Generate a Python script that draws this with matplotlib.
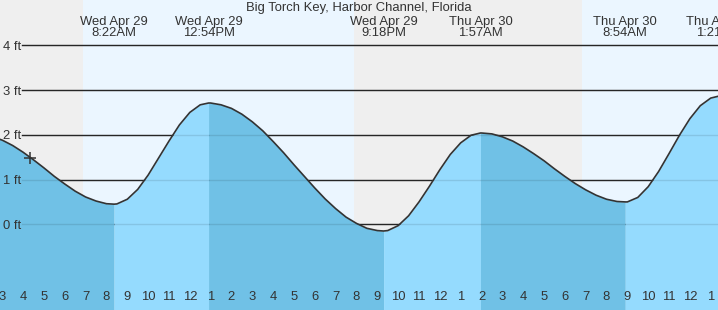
import matplotlib
matplotlib.use("Agg")
import matplotlib.pyplot as plt
import matplotlib.transforms as mtransforms
import numpy as np

# ---------------- data (hours since Wed Apr 29 00:00, height in ft) ----------------
times = [2.5, 3.0, 3.5, 4.0, 4.5, 5.0, 5.5, 6.0, 6.5, 7.0, 7.5, 8.0, 8.367,
         8.5, 9.0, 9.5, 10.0, 10.5, 11.0, 11.5, 12.0, 12.5, 12.9,
         13.0, 13.5, 14.0, 14.5, 15.0, 15.5, 16.0, 16.5, 17.0, 17.5, 18.0, 18.5,
         19.0, 19.5, 20.0, 20.5, 21.0, 21.3,
         21.5, 22.0, 22.5, 23.0, 23.5, 24.0, 24.5, 25.0, 25.5, 25.95,
         26.0, 26.5, 27.0, 27.5, 28.0, 28.5, 29.0, 29.5, 30.0, 30.5, 31.0, 31.5,
         32.0, 32.5, 32.9,
         33.0, 33.5, 34.0, 34.5, 35.0, 35.5, 36.0, 36.5, 37.0, 37.35, 37.5]
heights = [1.96, 1.88, 1.76, 1.61, 1.44, 1.26, 1.07, 0.90, 0.74, 0.61, 0.52, 0.46, 0.45,
           0.455, 0.56, 0.78, 1.10, 1.48, 1.86, 2.22, 2.50, 2.67, 2.71,
           2.71, 2.67, 2.59, 2.46, 2.29, 2.09, 1.85, 1.60, 1.33, 1.07, 0.81, 0.565,
           0.35, 0.16, 0.02, -0.09, -0.14, -0.15,
           -0.14, -0.03, 0.19, 0.50, 0.85, 1.22, 1.56, 1.82, 1.99, 2.04,
           2.04, 2.02, 1.955, 1.86, 1.73, 1.58, 1.42, 1.24, 1.07, 0.91, 0.77, 0.65,
           0.56, 0.51, 0.50,
           0.50, 0.60, 0.84, 1.18, 1.58, 1.99, 2.36, 2.65, 2.82, 2.86, 2.86]

# extreme times (turning points) separating falling / rising fills
turn_times = [8.367, 12.9, 21.3, 25.95, 32.9, 37.35]
first_phase_falling = True

# tide labels
label_times = [8.367, 12.9, 21.3, 25.95, 32.9, 37.35]
label_dates = ["Wed Apr 29", "Wed Apr 29", "Wed Apr 29", "Thu Apr 30", "Thu Apr 30", "Thu Apr 30"]
label_clock = ["8:22AM", "12:54PM", "9:18PM", "1:57AM", "8:54AM", "1:21PM"]

# day / night
night_spans = [(2.0, 6.873), (19.88, 30.82)]
day_spans = [(6.873, 19.88), (30.82, 38.0)]

# current time marker
now_time = 4.33
now_height = 1.48

# hour ticks
hour_ticks = list(range(3, 38))
hour_labels = ["3", "4", "5", "6", "7", "8", "9", "10", "11", "12", "1", "2", "3", "4", "5",
               "6", "7", "8", "9", "10", "11", "12", "1", "2", "3", "4", "5", "6", "7",
               "8", "9", "10", "11", "12", "1"]
midnight_tick = 24

y_levels = [4, 3, 2, 1, 0]
y_labels = ["4 ft", "3 ft", "2 ft", "1 ft", "0 ft"]

title = "Big Torch Key, Harbor Channel, Florida"

# ---------------- styling ----------------
W, H = 718, 310
plt.rcParams['font.family'] = ['Liberation Sans', 'DejaVu Sans']
FS = 9.4
TXT = "#333333"
NIGHT = "#efefef"
DAY = "#ebf6ff"
FALL = "#70c1e6"
RISE = "#95dbfe"

fig = plt.figure(figsize=(W / 100, H / 100), dpi=100)
ax = fig.add_axes([0, 0, 1, 1])
xmin, xmax = 2.89, 37.35
ax.set_xlim(xmin, xmax)
ax.set_ylim(-1.915, 5.012)
for s in ax.spines.values():
    s.set_visible(False)
ax.set_yticks([])

# background
for a, b in night_spans:
    ax.axvspan(a, b, color=NIGHT, lw=0, zorder=0)
for a, b in day_spans:
    ax.axvspan(a, b, color=DAY, lw=0, zorder=0)

# grid lines (under fill)
for lv in y_levels:
    ax.axhline(lv, xmin=22 / W, xmax=1, color="#2b2b2b", lw=1.0, zorder=1)

# fills
t = np.array(times)
h = np.array(heights)
bounds = [t[0]] + turn_times + [t[-1] + 1]
falling = first_phase_falling
for i in range(len(bounds) - 1):
    m = (t >= bounds[i]) & (t <= bounds[i + 1])
    ax.fill_between(t[m], -3, h[m], color=FALL if falling else RISE, lw=0, zorder=2)
    falling = not falling

# faint grid lines seen through fill
for lv in y_levels:
    ax.axhline(lv, xmin=22 / W, xmax=1, color="black", alpha=0.10, lw=1.0, zorder=3)

# curve
ax.plot(t, h, color="#333333", lw=1.2, zorder=4, solid_joinstyle="round")
ax.plot([now_time], [now_height], marker="+", ms=9, mew=1.1, color="#333333", zorder=5)

# y labels
ytr = mtransforms.blended_transform_factory(ax.transAxes, ax.transData)
for lv, lb in zip(y_levels, y_labels):
    ax.text(3 / W, lv - 0.104, lb, transform=ytr, ha="left", va="baseline",
            fontsize=FS, color=TXT, zorder=6)

# x ticks (inside, at bottom)
ax.set_xticks(hour_ticks)
ax.tick_params(axis="x", direction="in", length=7, width=1, color="#333333",
               labelbottom=False, bottom=True, top=False)
for tk, pos in zip(ax.xaxis.get_major_ticks(), hour_ticks):
    tk.tick1line.set_zorder(6)
    if pos == midnight_tick:
        tk.tick1line.set_markeredgewidth(3)
xtr = ax.get_xaxis_transform()
for pos, lb in zip(hour_ticks, hour_labels):
    ax.text(pos, 10.5 / H, lb, transform=xtr, ha="center", va="baseline",
            fontsize=FS, color=TXT, zorder=6)

# tide labels
for tt, d, c in zip(label_times, label_dates, label_clock):
    ax.text(tt, 1 - 24.5 / H, d, transform=xtr, ha="center", va="baseline",
            fontsize=FS, color=TXT, zorder=6, clip_on=False)
    ax.text(tt, 1 - 35.5 / H, c, transform=xtr, ha="center", va="baseline",
            fontsize=FS, color=TXT, zorder=6, clip_on=False)

fig.text(359 / W, 1 - 11.5 / H, title, ha="center", va="baseline", fontsize=FS, color=TXT)

fig.savefig("out.png", dpi=100)
